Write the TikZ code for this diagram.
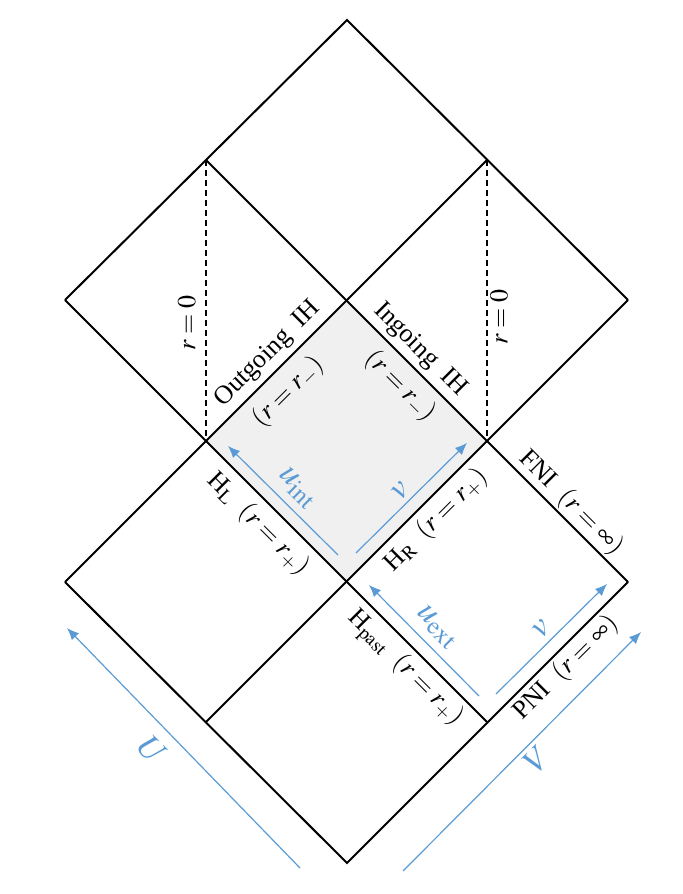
\documentclass[tikz,border=0pt]{standalone}
\usepackage{mathptmx}
\usepackage{fontspec}
\setmainfont{Liberation Serif}
\usetikzlibrary{arrows.meta}
\definecolor{penBlue}{HTML}{5B9BD5}
\definecolor{penGrey}{HTML}{F0F0F0}

\begin{document}
\begin{tikzpicture}[x=0.5pt, y=0.5pt,
    edge/.style={draw=black, line width=1pt},
    singular/.style={draw=black, line width=0.9pt, dash pattern=on 3pt off 2pt},
    flow/.style={draw=penBlue, line width=0.6pt, -{Latex[length=6pt, width=5pt]}},
    lab/.style={font=\fontsize{13}{15}\selectfont, inner sep=0pt},
    flowlab/.style={lab, text=penBlue, font=\fontsize{17}{20}\selectfont},
  ]
    \useasboundingbox (0,0) rectangle (682,894);

    % corners of the diagram
    \coordinate (T)  at (347,874);
    \coordinate (UL) at (206,734);
    \coordinate (UR) at (487,734);
    \coordinate (L1) at (65,594);
    \coordinate (M1) at (347,594);
    \coordinate (R1) at (628,594);
    \coordinate (L2) at (206,453);
    \coordinate (R2) at (487,453);
    \coordinate (L3) at (65,312);
    \coordinate (M3) at (347,312);
    \coordinate (R3) at (628,312);
    \coordinate (L4) at (206,172);
    \coordinate (R4) at (487,172);
    \coordinate (B)  at (347,31);

    \fill[penGrey] (L2) -- (M1) -- (R2) -- (M3) -- cycle;

    \draw[edge] (L1) -- (T) -- (R1);
    \draw[edge] (L3) -- (B) -- (R3);
    \draw[edge] (L1) -- (R4);
    \draw[edge] (R1) -- (L4);
    \draw[edge] (L3) -- (UR);
    \draw[edge] (R3) -- (UL);
    \draw[singular] (UL) -- (L2);
    \draw[singular] (UR) -- (R2);

    % arrow ends
    \coordinate (uintA) at (338,339);
    \coordinate (uintB) at (228,448);
    \coordinate (vintA) at (356,341);
    \coordinate (vintB) at (467,451);
    \coordinate (uextA) at (479,198);
    \coordinate (uextB) at (369,309);
    \coordinate (vextA) at (496,200);
    \coordinate (vextB) at (607,310);
    \coordinate (UA) at (300,26);
    \coordinate (UB) at (67,266);
    \coordinate (VA) at (403,23);
    \coordinate (VB) at (641,262);

    \draw[flow] (uintA) -- (uintB);
    \draw[flow] (vintA) -- (vintB);
    \draw[flow] (uextA) -- (uextB);
    \draw[flow] (vextA) -- (vextB);
    \draw[flow] (UA) -- (UB);
    \draw[flow] (VA) -- (VB);

    % labels
    \node[lab, rotate=90] (rzeroL) at (187,571) {$r = 0$};
    \node[lab, rotate=90] (rzeroR) at (499,577) {$r = 0$};
    \node[lab, rotate=45] (outIH) at (268,540) {Outgoing\enspace IH};
    \node[lab, rotate=45] (outR) at (288,502) {$(r = r_-)$};
    \node[lab, rotate=-45] (inIH) at (420,544) {Ingoing\enspace IH};
    \node[lab, rotate=-45] (inR) at (400,508) {$(r = r_-)$};
    \node[lab, rotate=-45] (hL) at (258,370) {H$_{\mathrm{L}}$\enspace$(r = r_+)$};
    \node[lab, rotate=45] (hR) at (436,374) {H$_{\mathrm{R}}$\enspace$(r = r_+)$};
    \node[lab, rotate=-45] (fni) at (571,391) {FNI\enspace$(r = \infty)$};
    \node[lab, rotate=-45] (hpast) at (405,226) {H$_{\mathrm{past}}$\enspace$(r = r_+)$};
    \node[lab, rotate=45] (pni) at (566,226) {PNI\enspace$(r = \infty)$};

    \node[flowlab, rotate=-45] (uint) at (297,406) {$u_{\mathrm{int}}$};
    \node[flowlab, rotate=45] (vint) at (401,403) {$v$};
    \node[flowlab, rotate=-45] (uext) at (437,267) {$u_{\mathrm{ext}}$};
    \node[flowlab, rotate=45] (vext) at (542,265) {$v$};
    \node[flowlab, rotate=-45] (Ulab) at (152,144) {$U$};
    \node[flowlab, rotate=45] (Vlab) at (537,135) {$V$};
  \end{tikzpicture}
\end{document}
